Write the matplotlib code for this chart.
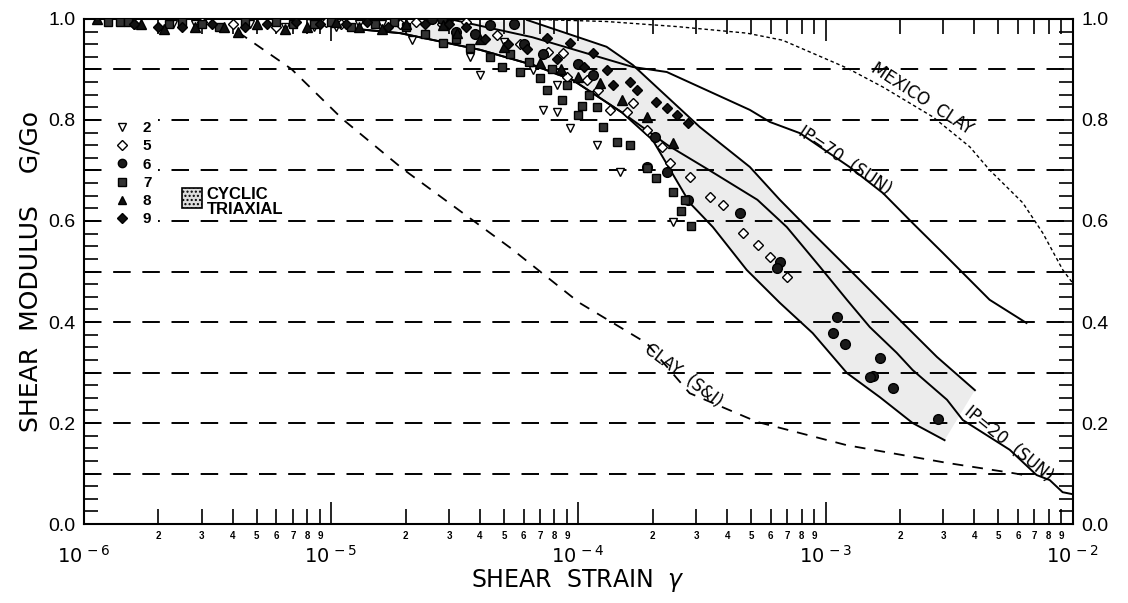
import matplotlib
matplotlib.use('Agg')
from matplotlib import pyplot as plt
from matplotlib.lines import Line2D
from matplotlib.patches import Rectangle
import matplotlib.ticker as mticker
import numpy as np

thin = ['Liberation Sans Narrow', 'DejaVu Sans']
plt.rcParams['font.family'] = ['Liberation Sans', 'DejaVu Sans']

# reference curves (strain, G/Go)
clay_si_x = [4.2e-6, 6.9e-6, 1.11e-5, 1.95e-5, 5.3e-5, 1.01e-4, 1.89e-4, 2.82e-4, 5.3e-4, 1.22e-3, 3.1e-3, 5.7e-3, 6.7e-3]
clay_si_y = [0.974, 0.901, 0.802, 0.703, 0.547, 0.438, 0.358, 0.259, 0.202, 0.156, 0.121, 0.101, 0.095]

mexico_x = [6.0e-5, 1.3e-4, 2.5e-4, 4.8e-4, 6.7e-4, 1.22e-3, 1.71e-3, 2.72e-3, 3.83e-3, 4.61e-3, 6.28e-3, 7.57e-3, 9.12e-3, 1.0e-2]
mexico_y = [1.0, 0.995, 0.985, 0.972, 0.958, 0.903, 0.865, 0.806, 0.747, 0.701, 0.636, 0.576, 0.503, 0.477]

ip70_x = [3.0e-5, 6.5e-5, 1.66e-4, 2.28e-4, 4.94e-4, 5.96e-4, 7.87e-4, 1.25e-3, 1.71e-3, 2.25e-3, 2.98e-3, 4.61e-3, 6.5e-3]
ip70_y = [1.0, 0.964, 0.905, 0.895, 0.820, 0.796, 0.774, 0.707, 0.655, 0.596, 0.537, 0.444, 0.398]

ip20_x = [8.0e-6, 1.27e-5, 1.9e-5, 4.0e-5, 6.55e-5, 9.5e-5, 1.5e-4, 2.3e-4, 3.4e-4, 5.3e-4, 6.97e-4, 9.5e-4, 1.22e-3, 1.51e-3,
          1.94e-3, 2.25e-3, 3.1e-3, 3.59e-3, 5.56e-3, 7.14e-3, 8.07e-3, 9.1e-3, 1.0e-2]
ip20_y = [1.0, 0.980, 0.972, 0.939, 0.909, 0.879, 0.815, 0.75, 0.70, 0.642, 0.588, 0.509, 0.444, 0.390,
          0.339, 0.305, 0.246, 0.206, 0.147, 0.097, 0.087, 0.063, 0.059]

band_lo_x = [1.27e-5, 1.9e-5, 4.0e-5, 6.55e-5, 9.5e-5, 1.5e-4, 2.0e-4, 2.82e-4, 3.5e-4, 4.8e-4, 6.53e-4, 8.87e-4, 1.22e-3,
             1.66e-3, 2.25e-3, 3.03e-3]
band_lo_y = [0.980, 0.972, 0.939, 0.909, 0.879, 0.815, 0.76, 0.636, 0.588, 0.503, 0.438, 0.378, 0.299,
             0.251, 0.200, 0.166]

band_hi_x = [6.2e-5, 1.3e-4, 1.66e-4, 3.1e-4, 4.94e-4, 6.53e-4, 8.87e-4, 1.29e-3, 1.94e-3, 2.82e-3, 4.02e-3]
band_hi_y = [0.998, 0.945, 0.909, 0.786, 0.707, 0.642, 0.576, 0.497, 0.410, 0.331, 0.265]

# test data (strain, G/Go) for each test number
s2_x = [1.45e-6, 2.3e-6, 2.8e-6, 4.7e-6, 6.5e-6, 8.5e-6, 1.05e-5, 1.3e-5, 1.6e-5, 2.12e-5, 3.0e-5, 3.64e-5, 4.0e-5, 5.0e-5, 6.55e-5,
        7.18e-5, 8.18e-5, 8.18e-5, 9.25e-5, 1.19e-4, 1.47e-4, 2.41e-4]
s2_y = [0.995, 0.99, 0.99, 0.99, 0.985, 0.985, 0.985, 0.99, 0.99, 0.958, 0.99, 0.925, 0.889, 0.955, 0.899,
        0.820, 0.816, 0.869, 0.784, 0.750, 0.697, 0.598]

s5_x = [1.6e-6, 3.0e-6, 4.0e-6, 6.0e-6, 9.5e-6, 1.1e-5, 1.9e-5, 2.2e-5, 2.8e-5, 3.2e-5, 3.5e-5, 4.68e-5, 5.8e-5, 7.5e-5, 8.65e-5,
        8.97e-5, 1.08e-4, 1.2e-4, 1.34e-4, 1.57e-4, 1.66e-4, 1.89e-4, 2.18e-4, 2.35e-4, 2.82e-4, 3.4e-4, 3.84e-4, 4.62e-4,
        5.32e-4, 5.96e-4, 6.97e-4]
s5_y = [0.99, 0.995, 0.99, 0.985, 0.995, 0.99, 0.99, 0.995, 0.99, 0.975, 0.995, 0.968, 0.95, 0.935, 0.933,
        0.885, 0.879, 0.86, 0.820, 0.816, 0.834, 0.780, 0.747, 0.715, 0.687, 0.648, 0.632, 0.576,
        0.552, 0.529, 0.489]

s6_x = [2.55e-5, 2.8e-5, 3.2e-5, 3.8e-5, 4.38e-5, 5.5e-5, 6.0e-5, 7.2e-5, 1.0e-4, 1.15e-4, 1.89e-4, 2.04e-4, 2.28e-4, 2.77e-4,
        4.5e-4, 6.53e-4, 6.35e-4, 1.11e-3, 1.07e-3, 1.2e-3, 1.66e-3, 1.55e-3, 1.51e-3, 1.87e-3, 2.84e-3]
s6_y = [1.0, 1.0, 0.975, 0.97, 0.988, 0.99, 0.95, 0.93, 0.91, 0.89, 0.707, 0.766, 0.697, 0.642,
        0.616, 0.519, 0.507, 0.410, 0.378, 0.356, 0.329, 0.293, 0.291, 0.269, 0.208]

s7_x = [1.25e-6, 1.4e-6, 1.5e-6, 2.2e-6, 2.5e-6, 3.0e-6, 3.5e-6, 4.5e-6, 6.0e-6, 7.0e-6, 8.5e-6, 1.0e-5, 1.2e-5, 1.5e-5, 1.8e-5,
        2.0e-5, 2.4e-5, 2.83e-5, 3.2e-5, 3.64e-5, 4.38e-5, 4.91e-5, 5.3e-5, 5.8e-5, 6.3e-5, 6.98e-5, 7.46e-5, 7.8e-5, 8.57e-5,
        9.0e-5, 1.03e-4, 9.95e-5, 1.1e-4, 1.19e-4, 1.26e-4, 1.43e-4, 1.61e-4, 1.89e-4, 2.07e-4, 2.41e-4, 2.7e-4, 2.6e-4, 2.85e-4]
s7_y = [0.995, 0.995, 0.995, 0.99, 0.995, 0.99, 0.985, 0.995, 0.995, 0.99, 0.99, 0.995, 0.985, 0.99, 0.995,
        0.985, 0.97, 0.952, 0.96, 0.943, 0.925, 0.905, 0.93, 0.895, 0.915, 0.883, 0.859, 0.90, 0.840,
        0.87, 0.828, 0.810, 0.85, 0.826, 0.786, 0.756, 0.750, 0.705, 0.685, 0.657, 0.642, 0.62, 0.59]

s8_x = [1.13e-6, 1.7e-6, 2.1e-6, 2.8e-6, 3.7e-6, 4.2e-6, 5.0e-6, 6.5e-6, 8.0e-6, 1.05e-5, 1.3e-5, 1.6e-5, 2.0e-5, 2.83e-5,
        3.23e-5, 4.0e-5, 5.0e-5, 6.98e-5, 8.5e-5, 1.0e-4, 1.22e-4, 1.5e-4, 1.89e-4, 2.41e-4]
s8_y = [1.0, 0.99, 0.98, 0.985, 0.985, 0.975, 0.99, 0.98, 0.985, 0.995, 0.985, 0.98, 0.99, 0.988,
        0.972, 0.96, 0.945, 0.913, 0.90, 0.885, 0.873, 0.84, 0.806, 0.754]

s9_x = [1.6e-6, 2.0e-6, 2.5e-6, 3.3e-6, 4.5e-6, 5.5e-6, 7.2e-6, 9.0e-6, 1.15e-5, 1.4e-5, 1.7e-5, 2.4e-5, 3.0e-5, 3.5e-5,
        4.2e-5, 5.2e-5, 6.2e-5, 7.46e-5, 8.2e-5, 9.25e-5, 1.05e-4, 1.15e-4, 1.3e-4, 1.38e-4, 1.61e-4, 1.73e-4, 2.07e-4,
        2.28e-4, 2.5e-4, 2.77e-4]
s9_y = [0.99, 0.985, 0.985, 0.99, 0.985, 0.99, 0.995, 0.99, 0.99, 0.995, 0.985, 0.99, 0.99, 0.985,
        0.96, 0.95, 0.94, 0.962, 0.92, 0.952, 0.905, 0.933, 0.899, 0.869, 0.875, 0.859, 0.836,
        0.824, 0.810, 0.794]

series = [
    ('2', s2_x, s2_y, 'v', 'white', 6),
    ('5', s5_x, s5_y, 'D', 'white', 5),
    ('6', s6_x, s6_y, 'o', '#1a1a1a', 7),
    ('7', s7_x, s7_y, 's', '#333333', 5.5),
    ('8', s8_x, s8_y, '^', '#111111', 6.5),
    ('9', s9_x, s9_y, 'D', '#111111', 5.5),
]

grid_levels = [0.1, 0.2, 0.3, 0.4, 0.5, 0.6, 0.7, 0.8, 0.9]

fig = plt.figure(figsize=(11.28, 6.03), dpi=100)
ax = fig.add_axes([0.0745, 0.131, 0.8765, 0.8375])

# cyclic triaxial band
band_poly = list(zip(band_lo_x, band_lo_y)) + list(zip(band_hi_x[::-1], band_hi_y[::-1]))
ax.add_patch(plt.Polygon(band_poly, closed=True, facecolor='#ececec', edgecolor='none', zorder=1))

for lv in grid_levels:
    ax.axhline(lv, color='black', lw=1.4, dashes=(9, 6), zorder=2)

ax.plot(clay_si_x, clay_si_y, color='black', lw=1.3, dashes=(6, 5), zorder=3)
ax.plot(mexico_x, mexico_y, color='black', lw=1.0, dashes=(2.5, 2), zorder=3)
for cx, cy in [(ip70_x, ip70_y), (ip20_x, ip20_y), (band_lo_x, band_lo_y), (band_hi_x, band_hi_y)]:
    ax.plot(cx, cy, color='black', lw=1.4, zorder=3)

for name, xs, ys, mk, fc, ms in series:
    ax.plot(xs, ys, linestyle='none', marker=mk, ms=ms, mfc=fc, mec='black', mew=1.0, zorder=4)

ax.set_xscale('log')
ax.set_xlim(1e-6, 1e-2)
ax.set_ylim(0, 1.0)

# legend for test numbers
handles = [Line2D([], [], linestyle='none', marker=mk, ms=min(ms, 6), mfc=fc, mec='black', mew=1.0)
           for name, xs, ys, mk, fc, ms in series]
leg = ax.legend(handles, [s[0] for s in series], loc='upper left', bbox_to_anchor=(0.024, 0.81),
                frameon=True, facecolor='white', edgecolor='none', framealpha=1.0, fancybox=False,
                handlelength=1.0, handletextpad=0.9, labelspacing=0.28, borderpad=0.4, borderaxespad=0.0,
                prop={'weight': 'bold', 'size': 11})
leg.set_zorder(5)

ax.add_patch(Rectangle((0.099, 0.626), 0.02, 0.039, transform=ax.transAxes, facecolor='#dcdcdc',
                       edgecolor='black', lw=1.2, zorder=6, hatch='....'))
ax.text(0.124, 0.637, 'CYCLIC\nTRIAXIAL', transform=ax.transAxes, fontsize=12, fontweight='bold',
        linespacing=1.0, va='center', ha='left', zorder=6)

# curve labels
lbl = dict(family=thin, fontsize=12, ha='center', va='center', rotation_mode='anchor', zorder=6)
ax.text(2.45e-3, 0.843, 'MEXICO  CLAY', rotation=-33, **lbl)
ax.text(1.2e-3, 0.72, 'IP=70  (SUN)', rotation=-34, **lbl)
ax.text(5.5e-3, 0.158, 'IP=20  (SUN)', rotation=-39, **lbl)
ax.text(2.65e-4, 0.295, 'CLAY  (S&I)', rotation=-37, **lbl)

# ticks
ax.xaxis.set_major_locator(mticker.LogLocator(base=10, numticks=10))
ax.xaxis.set_minor_locator(mticker.LogLocator(base=10, subs=np.arange(2, 10), numticks=10))
ax.xaxis.set_minor_formatter(mticker.FuncFormatter(lambda v, p: '%d' % round(v / 10 ** np.floor(np.log10(v) + 1e-9))))
ax.xaxis.set_major_formatter(mticker.FuncFormatter(lambda v, p: '$10^{\\,%d}$' % round(np.log10(v))))
ax.tick_params(axis='x', which='major', direction='in', length=16, width=1.2, top=True, pad=15, labelsize=14)
ax.tick_params(axis='x', which='minor', direction='in', length=11, width=1.2, top=True, pad=5, labelsize=7)
for t in ax.xaxis.get_minorticklabels():
    t.set_fontweight('bold')

ax.yaxis.set_major_locator(mticker.MultipleLocator(0.2))
ax.yaxis.set_minor_locator(mticker.MultipleLocator(0.025))
ax.yaxis.set_major_formatter(mticker.FormatStrFormatter('%.1f'))
ax.tick_params(axis='y', which='major', direction='in', length=11, width=1.2, right=True, labelright=True,
               labelsize=14, pad=6)
ax.tick_params(axis='y', which='minor', direction='in', length=10, width=1.2, right=True)

for sp in ax.spines.values():
    sp.set_linewidth(1.5)

ax.set_xlabel('SHEAR  STRAIN  $\\gamma$', family=thin, fontsize=17, labelpad=0)
ax.set_ylabel('SHEAR  MODULUS    G/Go', family=thin, fontsize=18, labelpad=4)

plt.savefig('out.png', dpi=100)
